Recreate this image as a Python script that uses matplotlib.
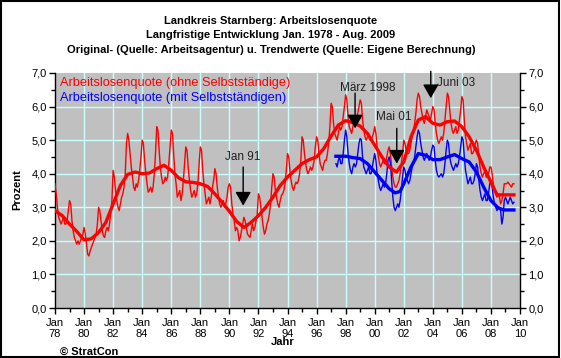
import numpy as np
import matplotlib
matplotlib.use("Agg")
import matplotlib.pyplot as plt

plt.rcParams['font.family'] = ['Liberation Sans', 'DejaVu Sans']

# monthly values, Jan 1978 - Aug 2009 (ohne Selbststaendige)
red_raw = [
    3.7, 3.4, 3.0, 2.7, 2.6, 2.5, 2.6, 2.7, 2.5, 2.5, 2.6, 2.9,      # 1978
    3.2, 3.1, 2.6, 2.3, 2.1, 2.0, 1.9, 2.0, 1.9, 2.0, 2.1, 2.2,      # 1979
    2.4, 2.2, 1.9, 1.6, 1.55, 1.7, 1.8, 1.9, 2.0, 2.1, 2.2, 2.5,     # 1980
    3.0, 2.9, 2.6, 2.3, 2.15, 2.1, 2.3, 2.4, 2.3, 2.5, 2.8, 3.2,     # 1981
    4.1, 3.9, 3.5, 3.2, 3.0, 2.9, 3.1, 3.3, 3.4, 3.6, 4.0, 4.9,      # 1982
    5.2, 5.0, 4.6, 4.2, 3.9, 3.6, 3.5, 3.7, 3.6, 3.8, 4.1, 4.5,      # 1983
    5.0, 4.9, 4.4, 4.0, 3.7, 3.45, 3.5, 3.6, 3.45, 3.6, 4.0, 4.6,    # 1984
    5.4, 5.3, 4.7, 4.2, 3.9, 3.7, 3.75, 3.9, 3.8, 3.9, 4.3, 4.8,     # 1985
    5.3, 5.2, 4.6, 4.0, 3.7, 3.3, 3.4, 3.5, 3.2, 3.4, 3.8, 4.3,      # 1986
    4.8, 4.7, 4.2, 3.8, 3.5, 3.3, 3.4, 3.5, 3.3, 3.4, 3.7, 4.3,      # 1987
    4.8, 4.7, 4.1, 3.7, 3.4, 3.1, 3.2, 3.3, 3.1, 3.3, 3.6, 3.8,      # 1988
    4.15, 4.0, 3.6, 3.3, 3.1, 3.0, 3.1, 3.2, 3.0, 3.1, 3.3, 3.6,     # 1989
    3.7, 3.6, 3.1, 2.8, 2.6, 2.3, 2.4, 2.3, 2.0, 2.1, 2.3, 2.5,      # 1990
    2.7, 2.6, 2.4, 2.2, 2.15, 2.1, 2.3, 2.5, 2.3, 2.4, 2.6, 2.8,     # 1991
    3.4, 3.3, 3.0, 2.7, 2.4, 2.2, 2.3, 2.5, 2.6, 2.8, 3.1, 3.6,      # 1992
    4.0, 3.9, 3.5, 3.3, 3.1, 3.0, 3.2, 3.35, 3.4, 3.5, 3.7, 4.1,     # 1993
    4.6, 4.5, 4.1, 3.8, 3.6, 3.5, 3.65, 3.75, 3.7, 3.8, 4.0, 4.4,    # 1994
    5.1, 5.0, 4.6, 4.3, 4.1, 4.0, 4.1, 4.2, 4.1, 4.2, 4.4, 4.8,      # 1995
    5.1, 5.0, 4.6, 4.3, 4.2, 4.1, 4.3, 4.4, 4.4, 4.6, 4.9, 5.4,      # 1996
    6.1, 6.0, 5.5, 5.2, 5.1, 5.0, 5.2, 5.4, 5.3, 5.4, 5.7, 6.0,      # 1997
    6.35, 6.2, 5.7, 5.4, 5.3, 5.2, 5.4, 5.6, 5.5, 5.6, 5.8, 6.0,     # 1998
    6.2, 6.1, 5.6, 5.3, 5.1, 5.0, 5.1, 5.2, 5.0, 5.0, 5.1, 5.2,      # 1999
    5.4, 5.2, 4.8, 4.5, 4.3, 4.2, 4.3, 4.4, 4.3, 4.3, 4.5, 4.7,      # 2000
    4.8, 4.6, 4.2, 3.9, 3.7, 3.6, 3.6, 3.7, 3.8, 4.0, 4.3, 4.6,      # 2001
    5.0, 4.9, 4.7, 4.6, 4.6, 4.7, 4.9, 5.1, 5.3, 5.5, 5.8, 6.2,      # 2002
    6.4, 6.3, 6.0, 5.8, 5.6, 5.5, 5.7, 5.9, 5.8, 5.7, 5.6, 5.8,      # 2003
    6.0, 5.9, 5.5, 5.2, 5.0, 4.9, 5.0, 5.1, 5.0, 5.2, 5.6, 6.0,      # 2004
    6.4, 6.3, 5.9, 5.5, 5.3, 5.2, 5.3, 5.4, 5.2, 5.3, 5.6, 5.9,      # 2005
    6.3, 6.2, 5.6, 5.1, 4.9, 4.7, 4.8, 4.9, 4.6, 4.6, 4.7, 4.9,      # 2006
    5.0, 4.9, 4.5, 4.2, 4.0, 3.9, 4.0, 4.1, 3.9, 3.9, 4.0, 4.2,      # 2007
    4.2, 4.0, 3.7, 3.5, 3.4, 3.3, 3.4, 3.3, 3.1, 3.2, 3.4, 3.7,      # 2008
    3.7, 3.7, 3.75, 3.7, 3.65, 3.6, 3.7, 3.7,                        # 2009
]

# monthly values, May 1997 - Aug 2009 (mit Selbststaendigen)
blue_raw = [
    4.3, 4.2, 4.4, 4.5, 4.3, 4.3, 4.6, 5.0,                          # 1997
    5.3, 5.1, 4.6, 4.3, 4.1, 4.0, 4.2, 4.3, 4.2, 4.3, 4.6, 4.9,      # 1998
    5.05, 5.0, 4.5, 4.2, 4.1, 4.0, 4.1, 4.2, 4.0, 4.0, 4.2, 4.4,     # 1999
    4.6, 4.4, 4.0, 3.8, 3.6, 3.5, 3.6, 3.7, 3.6, 3.7, 4.0, 4.4,      # 2000
    4.5, 4.3, 3.8, 3.3, 3.0, 2.9, 3.0, 3.1, 3.0, 3.2, 3.5, 3.9,      # 2001
    4.2, 4.1, 3.9, 3.8, 3.7, 3.8, 4.0, 4.2, 4.3, 4.5, 4.8, 5.1,      # 2002
    5.3, 5.2, 4.9, 4.7, 4.5, 4.4, 4.5, 4.6, 4.5, 4.4, 4.5, 4.7,      # 2003
    4.85, 4.8, 4.4, 4.1, 3.95, 3.9, 3.95, 4.0, 3.9, 4.0, 4.3, 4.7,   # 2004
    5.0, 4.9, 4.5, 4.3, 4.2, 4.1, 4.2, 4.3, 4.2, 4.3, 4.5, 4.8,      # 2005
    5.1, 5.0, 4.5, 4.1, 3.9, 3.7, 3.8, 3.9, 3.7, 3.7, 3.8, 4.0,      # 2006
    4.3, 4.2, 3.8, 3.5, 3.3, 3.2, 3.3, 3.4, 3.2, 3.2, 3.4, 3.7,      # 2007
    3.8, 3.6, 3.3, 3.1, 3.0, 2.9, 3.0, 3.0, 2.9, 2.5, 2.7, 3.2,      # 2008
    3.3, 3.2, 3.1, 3.2, 3.3, 3.2, 3.1, 3.15,                         # 2009
]

# trend values (eigene Berechnung), read half-yearly
red_trend_t = [1978.0, 1978.5, 1979.0, 1979.5, 1980.0, 1980.5, 1981.0, 1981.5, 1982.0, 1982.5,
               1983.0, 1983.5, 1984.0, 1984.5, 1985.0, 1985.5, 1986.0, 1986.5, 1987.0, 1987.5,
               1988.0, 1988.5, 1989.0, 1989.5, 1990.0, 1990.5, 1991.0, 1991.5, 1992.0, 1992.5,
               1993.0, 1993.5, 1994.0, 1994.5, 1995.0, 1995.5, 1996.0, 1996.5, 1997.0, 1997.5,
               1998.0, 1998.5, 1999.0, 1999.5, 2000.0, 2000.5, 2001.0, 2001.5, 2002.0, 2002.5,
               2003.0, 2003.5, 2004.0, 2004.5, 2005.0, 2005.5, 2006.0, 2006.5, 2007.0, 2007.5,
               2008.0, 2008.33, 2008.42, 2009.0, 2009.58]
red_trend_v = [2.9, 2.75, 2.5, 2.28, 2.03, 2.06, 2.25, 2.55, 3.1, 3.65,
               3.98, 4.05, 4.0, 4.02, 4.15, 4.25, 4.1, 3.88, 3.76, 3.74,
               3.7, 3.62, 3.4, 3.15, 2.88, 2.58, 2.4, 2.55, 2.75, 3.0,
               3.3, 3.65, 3.9, 4.1, 4.3, 4.42, 4.5, 4.75, 5.12, 5.45,
               5.58, 5.52, 5.42, 5.2, 4.85, 4.5, 4.2, 4.05, 4.35, 5.1,
               5.6, 5.7, 5.5, 5.45, 5.55, 5.57, 5.4, 5.1, 4.7, 4.2,
               3.75, 3.45, 3.37, 3.37, 3.37]

blue_trend_t = [1997.33, 1998.0, 1998.5, 1999.0, 1999.5, 2000.0, 2000.5, 2001.0, 2001.4, 2001.75,
                2002.0, 2002.5, 2003.0, 2003.5, 2004.0, 2004.5, 2005.0, 2005.5, 2006.0, 2006.5,
                2007.0, 2007.5, 2008.0, 2008.5, 2008.9, 2009.58]
blue_trend_v = [4.52, 4.52, 4.48, 4.45, 4.3, 4.05, 3.8, 3.55, 3.43, 3.47,
                3.7, 4.2, 4.6, 4.55, 4.42, 4.42, 4.5, 4.57, 4.45, 4.35,
                4.05, 3.6, 3.2, 2.98, 2.92, 2.92]

# annotations: label, arrow x, arrow start y, arrow tip y, text x, text y
notes = [
    ("Jan 91", 1990.95, 4.2, 3.05, 1990.95, 4.5),
    ("März 1998", 1998.65, 6.4, 5.35, 1999.5, 6.55),
    ("Mai 01", 2001.52, 5.35, 4.3, 2001.3, 5.68),
    ("Juni 03", 2003.86, 7.05, 6.25, 2005.6, 6.7),
]

red_t = 1978 + np.arange(len(red_raw)) / 12.0
blue_t = 1997 + (4 + np.arange(len(blue_raw))) / 12.0

fig = plt.figure(figsize=(5.61, 3.58), dpi=100)
ax = fig.add_axes([55 / 561, 1 - 308 / 358, 465 / 561, 235 / 358])
ax.set_facecolor('#C0C0C0')

grid_col = '#C8FFFF'
for yv in range(1, 7):
    ax.axhline(yv, color=grid_col, lw=1, zorder=1)
for xv in range(1980, 2010, 2):
    ax.axvline(xv, color=grid_col, lw=1, zorder=1)

ax.plot(red_t, red_raw, color='#FF0000', lw=1, zorder=3)
ax.plot(blue_t, blue_raw, color='#0000FF', lw=1, zorder=3)
ax.plot(red_trend_t, red_trend_v, color='#FF0000', lw=2.4, zorder=4)
ax.plot(blue_trend_t, blue_trend_v, color='#0000FF', lw=2.4, zorder=4)

for label, xa, y0, y1, xt, yt in notes:
    ax.annotate('', xy=(xa, y1), xytext=(xa, y0),
                arrowprops=dict(arrowstyle='-|>,head_length=0.7,head_width=0.4',
                                mutation_scale=12, color='black', lw=1, shrinkA=0, shrinkB=0),
                annotation_clip=False, zorder=6)
    ax.text(xt, yt, label, ha='center', va='center', fontsize=8.5, color='#202020', zorder=6)

ax.text(1978.35, 6.7, 'Arbeitslosenquote (ohne Selbstständige)', color='#FF0000',
        fontsize=9.2, va='center', ha='left', zorder=6)
ax.text(1978.35, 6.27, 'Arbeitslosenquote (mit Selbstständigen)', color='#0000FF',
        fontsize=9.2, va='center', ha='left', zorder=6)

ax.set_xlim(1978, 2010)
ax.set_ylim(0, 7)
ax.set_xticks(range(1978, 2011, 2))
ax.set_xticks(range(1978, 2011), minor=True)
ax.set_xticklabels(['Jan\n%02d' % (y % 100) for y in range(1978, 2011, 2)], fontsize=8)
ax.set_yticks(np.arange(0, 7.01, 1))
ax.set_yticks(np.arange(0, 7.01, 0.5), minor=True)
ax.set_yticklabels(['%d,0' % v for v in range(8)], fontsize=8)
ax.tick_params(axis='y', which='both', left=True, right=True, labelleft=True, labelright=True,
               direction='out', pad=2)
ax.tick_params(axis='x', which='both', direction='out', pad=3)
ax.tick_params(which='major', length=4, width=1)
ax.tick_params(which='minor', length=3, width=1)
ax.spines['top'].set_visible(False)
ax.spines['left'].set_linewidth(1)
ax.spines['bottom'].set_linewidth(1)
ax.spines['right'].set_linewidth(1)

fig.text(271 / 561, 1 - 21 / 358, 'Landkreis Starnberg: Arbeitslosenquote', ha='center', va='center',
         fontsize=8, fontweight='bold')
fig.text(271 / 561, 1 - 35 / 358, 'Langfristige Entwicklung Jan. 1978 - Aug. 2009', ha='center',
         va='center', fontsize=8, fontweight='bold')
fig.text(271 / 561, 1 - 50 / 358,
         'Original- (Quelle: Arbeitsagentur) u. Trendwerte (Quelle: Eigene Berechnung)',
         ha='center', va='center', fontsize=8, fontweight='bold')
fig.text(17 / 561, 1 - 190 / 358, 'Prozent', rotation=90, ha='center', va='center',
         fontsize=8, fontweight='bold')
fig.text(283 / 561, 1 - 342 / 358, 'Jahr', ha='center', va='center', fontsize=8, fontweight='bold')
fig.text(60 / 561, 1 - 352 / 358, '© StratCon', ha='left', va='center', fontsize=8,
         fontweight='bold')

fig.patches.append(plt.Rectangle((0.002, 0.003), 0.995, 0.994, transform=fig.transFigure,
                                 fill=False, edgecolor='black', lw=1.5))

fig.savefig('out.png', dpi=100)
